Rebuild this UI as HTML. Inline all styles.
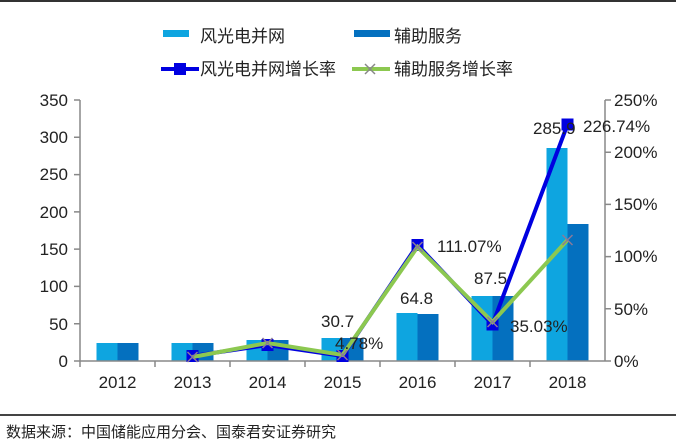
<!DOCTYPE html>
<html><head><meta charset="utf-8"><style>
html,body{margin:0;padding:0;background:#fff;width:676px;height:444px;overflow:hidden}
text{font-family:"Liberation Sans","Noto Sans CJK SC",sans-serif}
</style></head><body>
<svg width="676" height="444" viewBox="0 0 676 444" xmlns="http://www.w3.org/2000/svg">
<line x1="0" y1="1" x2="676" y2="1" stroke="#333" stroke-width="2"/>
<!-- legend -->
<rect x="163" y="30" width="26" height="7" fill="#0ea5e0"/>
<text x="200" y="42" font-size="17" fill="#222">风光电并网</text>
<rect x="354" y="30" width="36" height="7" fill="#0470bf"/>
<text x="394" y="42" font-size="17" fill="#222">辅助服务</text>
<line x1="161" y1="69" x2="199" y2="69" stroke="#0000e0" stroke-width="4"/>
<rect x="174" y="63" width="12" height="12" fill="#0000e0"/>
<text x="200" y="75" font-size="17" fill="#222">风光电并网增长率</text>
<line x1="352" y1="69" x2="390" y2="69" stroke="#8cc850" stroke-width="4"/>
<path d="M365 64 L375 74 M375 64 L365 74" stroke="#888" stroke-width="1.5"/>
<text x="394" y="75" font-size="17" fill="#222">辅助服务增长率</text>
<!-- bars -->
<g fill="#0ea5e0">
<rect x="96.5" y="343" width="21" height="18"/>
<rect x="171.5" y="343" width="21" height="18"/>
<rect x="246.5" y="340" width="21" height="21"/>
<rect x="321.5" y="338" width="21" height="23"/>
<rect x="396.5" y="313" width="21" height="48"/>
<rect x="471.5" y="296" width="21" height="65"/>
<rect x="546.5" y="148" width="21" height="213"/>
</g>
<g fill="#0470bf">
<rect x="117.5" y="343" width="21" height="18"/>
<rect x="192.5" y="343" width="21" height="18"/>
<rect x="267.5" y="340" width="21" height="21"/>
<rect x="342.5" y="338" width="21" height="23"/>
<rect x="417.5" y="314" width="21" height="47"/>
<rect x="492.5" y="296" width="21" height="65"/>
<rect x="567.5" y="224" width="21" height="137"/>
</g>
<!-- axes -->
<g stroke="#888" stroke-width="1.5" fill="none">
<line x1="80" y1="100" x2="80" y2="361"/>
<line x1="605" y1="100" x2="605" y2="361"/>
<line x1="74" y1="361" x2="611" y2="361"/>
<path d="M74 100H80M74 137.3H80M74 174.6H80M74 211.9H80M74 249.1H80M74 286.4H80M74 323.7H80"/>
<path d="M605 100H611M605 152.2H611M605 204.4H611M605 256.6H611M605 308.8H611"/>
<path d="M155 361V367M230 361V367M305 361V367M380 361V367M455 361V367M530 361V367M80 361V367"/>
</g>
<g font-size="17" fill="#222" text-anchor="end">
<text x="68" y="106">350</text><text x="68" y="143">300</text><text x="68" y="180">250</text>
<text x="68" y="218">200</text><text x="68" y="255">150</text><text x="68" y="292">100</text>
<text x="68" y="330">50</text><text x="68" y="367">0</text>
</g>
<g font-size="17" fill="#222">
<text x="614" y="106">250%</text><text x="614" y="158">200%</text><text x="614" y="210">150%</text>
<text x="614" y="262">100%</text><text x="614" y="315">50%</text><text x="614" y="367">0%</text>
</g>
<g font-size="17" fill="#222" text-anchor="middle">
<text x="117.5" y="388">2012</text><text x="192.5" y="388">2013</text><text x="267.5" y="388">2014</text>
<text x="342.5" y="388">2015</text><text x="417.5" y="388">2016</text><text x="492.5" y="388">2017</text>
<text x="567.5" y="388">2018</text>
</g>
<!-- lines -->
<polyline points="192.5,356 267.5,345 342.5,356 417.5,245 492.5,324.5 567.5,124.5" fill="none" stroke="#0000e0" stroke-width="4"/>
<g fill="#0000e0">
<rect x="186.5" y="350" width="12" height="12"/><rect x="261.5" y="339" width="12" height="12"/>
<rect x="336.5" y="350" width="12" height="12"/><rect x="411.5" y="239" width="12" height="12"/>
<rect x="486.5" y="318.5" width="12" height="12"/><rect x="561.5" y="118.5" width="12" height="12"/>
</g>
<polyline points="192.5,357 267.5,343 342.5,355 417.5,247 492.5,322 567.5,240" fill="none" stroke="#8cc850" stroke-width="4"/>
<g stroke="#8a7a9a" stroke-width="1.5">
<path d="M187.5 352l10 10M197.5 352l-10 10M262.5 338l10 10M272.5 338l-10 10M337.5 350l10 10M347.5 350l-10 10M412.5 242l10 10M422.5 242l-10 10M487.5 317l10 10M497.5 317l-10 10M562.5 235l10 10M572.5 235l-10 10"/>
</g>
<!-- data labels -->
<g font-size="17" fill="#222">
<text x="321" y="327">30.7</text>
<text x="335" y="349">4.78%</text>
<text x="400" y="304">64.8</text>
<text x="437" y="252">111.07%</text>
<text x="474" y="284">87.5</text>
<text x="510" y="332">35.03%</text>
<text x="533" y="134">285.9</text>
<text x="583" y="132">226.74%</text>
</g>
<line x1="0" y1="415" x2="676" y2="415" stroke="#444" stroke-width="2"/>
<text x="6" y="437" font-size="15" fill="#222">数据来源：中国储能应用分会、国泰君安证券研究</text>
</svg>
</body></html>
